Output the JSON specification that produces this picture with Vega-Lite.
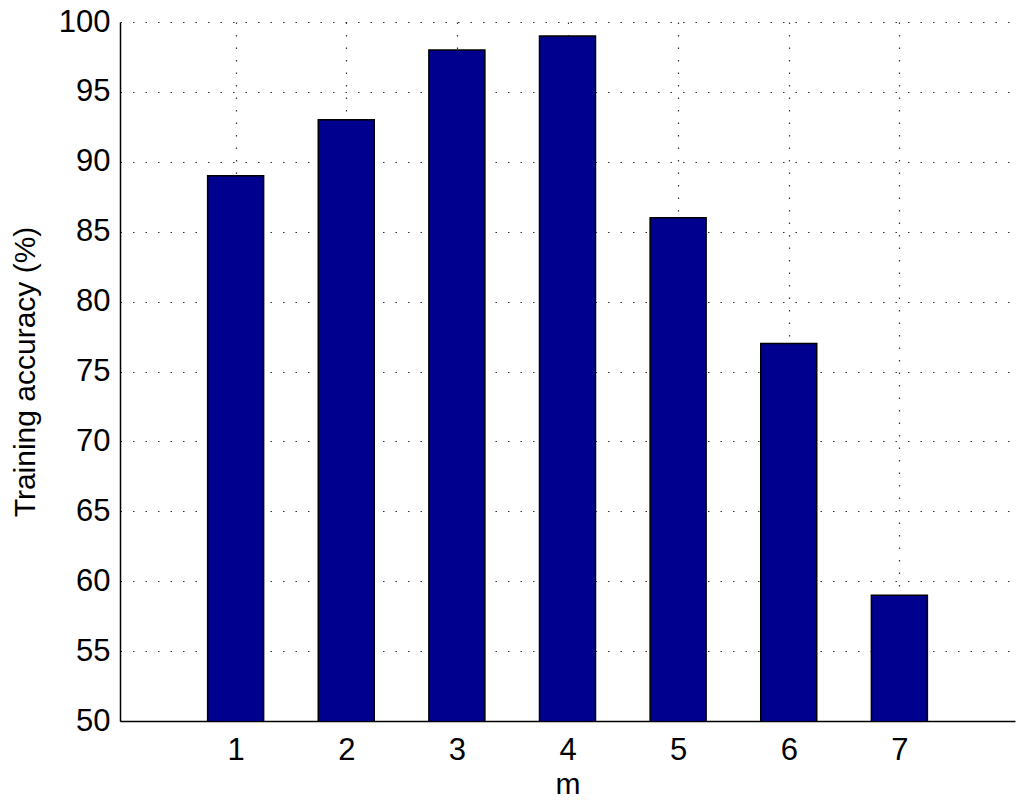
{
  "$schema": "https://vega.github.io/schema/vega-lite/v6.json",
  "width": 895,
  "height": 699,
  "autosize": {"type": "none"},
  "padding": {"left": 120, "top": 22, "right": 9, "bottom": 84},
  "background": "white",
  "config": {
    "view": {"stroke": null},
    "font": "Liberation Sans",
    "axis": {"labelFont": "Liberation Sans", "titleFont": "Liberation Sans", "labelColor": "black", "titleColor": "black", "titleFontWeight": "normal"}
  },
  "data": {
    "values": [
      {"m": 1, "acc": 89},
      {"m": 2, "acc": 93},
      {"m": 3, "acc": 98},
      {"m": 4, "acc": 99},
      {"m": 5, "acc": 86},
      {"m": 6, "acc": 77},
      {"m": 7, "acc": 59}
    ]
  },
  "mark": {"type": "bar", "size": 56, "color": "#00008F", "stroke": "black", "strokeWidth": 1.5, "clip": true},
  "encoding": {
    "x": {
      "field": "m", "type": "quantitative",
      "scale": {"domain": [0, 8], "nice": false, "zero": false},
      "axis": {
        "title": "m", "titleFontSize": 30, "titlePadding": 4,
        "values": [1, 2, 3, 4, 5, 6, 7], "format": "d",
        "labelFontSize": 31, "labelPadding": 14, "ticks": false,
        "domainColor": "black", "domainWidth": 1.5,
        "grid": true, "gridColor": "#333333", "gridDash": [1.5, 11], "gridWidth": 1.2
      }
    },
    "y": {
      "field": "acc", "type": "quantitative",
      "scale": {"domain": [50, 100], "nice": false, "zero": false},
      "axis": {
        "title": "Training accuracy (%)", "titleFontSize": 30, "titlePadding": 18,
        "values": [50, 55, 60, 65, 70, 75, 80, 85, 90, 95, 100],
        "labelFontSize": 31, "labelPadding": 10,
        "tickSize": 0,
        "domainColor": "black", "domainWidth": 1.5,
        "grid": true, "gridColor": "#333333", "gridDash": [1.5, 11], "gridWidth": 1.2
      }
    }
  }
}
